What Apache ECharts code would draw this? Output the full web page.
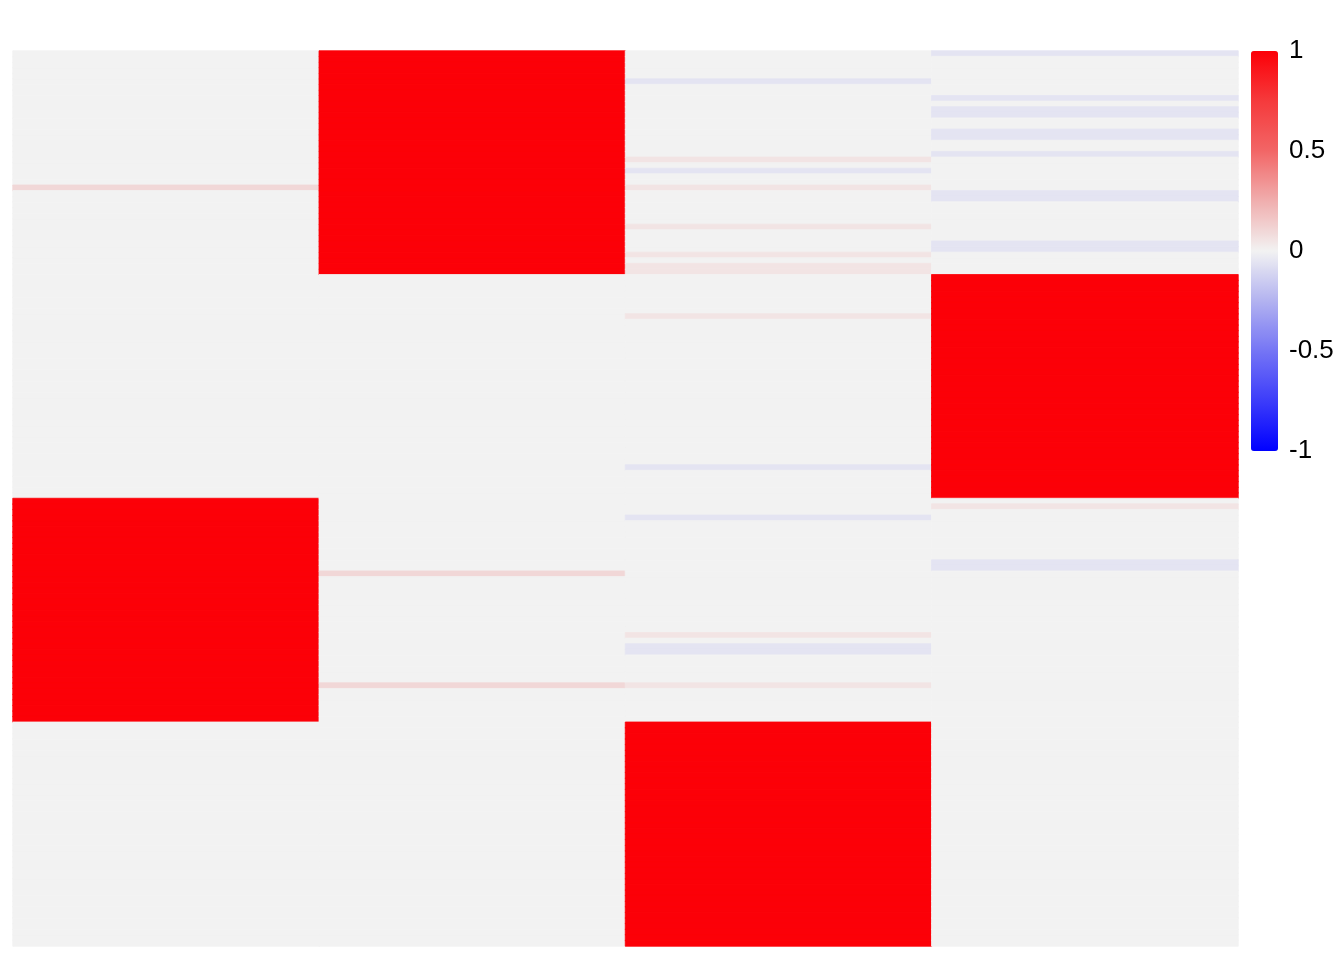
<!DOCTYPE html>
<html>
<head>
<meta charset="utf-8">
<script src="https://cdn.jsdelivr.net/npm/echarts@6/dist/echarts.min.js"></script>
<style>html,body{margin:0;padding:0;background:#fff}#chart{width:1344px;height:960px}</style>
</head>
<body>
<div id="chart"></div>
<script>
// Columns of the heatmap (left to right)
var columns = ['1', '2', '3', '4'];
// Number of rows (top to bottom)
var rowCount = 160;
// Non-zero cells per column as runs: [firstRow, lastRow, value]; all other cells are 0
var col1Runs = [[24, 24, 0.10], [80, 119, 1]];
var col2Runs = [[0, 39, 1], [93, 93, 0.10], [113, 113, 0.10]];
var col3Runs = [[5, 5, -0.055], [19, 19, 0.05], [21, 21, -0.055], [24, 24, 0.05], [31, 31, 0.05],
                [36, 36, 0.05], [38, 39, 0.05], [47, 47, 0.05], [74, 74, -0.055], [83, 83, -0.055],
                [104, 104, 0.05], [106, 107, -0.055], [113, 113, 0.05], [120, 159, 1]];
var col4Runs = [[0, 0, -0.055], [8, 8, -0.055], [10, 11, -0.055], [14, 15, -0.055], [18, 18, -0.055],
                [25, 26, -0.055], [34, 35, -0.055], [40, 79, 1], [81, 81, 0.05], [91, 92, -0.055]];
// Colour scale ticks
var scaleTicks = [-1, -0.5, 0, 0.5, 1];
var scaleColors = ['#0000ff', '#3c3cfa', '#7575f5', '#b2b2f0', '#f2f2f2', '#f0aeae', '#f26666', '#f53a3c', '#fc0008'];

var rows = [];
for (var r = 0; r < rowCount; r++) rows.push('r' + (r + 1));
var allRuns = [col1Runs, col2Runs, col3Runs, col4Runs];
var vmin = scaleTicks[0], vmax = scaleTicks[scaleTicks.length - 1];
var cells = [];
allRuns.forEach(function (runs, c) {
  var vals = [];
  for (var i = 0; i < rowCount; i++) vals.push(0);
  runs.forEach(function (run) {
    for (var k = run[0]; k <= run[1]; k++) vals[k] = run[2];
  });
  vals.forEach(function (v, i) {
    // stroke each cell in its own scale colour so neighbouring cells leave no anti-aliasing seams
    var sc = echarts.color.lerp((v - vmin) / (vmax - vmin), scaleColors);
    cells.push({value: [c, i, v], itemStyle: {borderColor: sc, borderWidth: 0.8}});
  });
});

var chart = echarts.init(document.getElementById('chart'), null, {renderer: 'canvas'});
chart.setOption({
  animation: false,
  backgroundColor: '#ffffff',
  grid: [
    {left: 13, top: 51, width: 1225, height: 895, containLabel: false},
    {left: 1251, top: 51, width: 27, height: 400, containLabel: false}
  ],
  xAxis: [
    {type: 'category', gridIndex: 0, data: columns, show: false},
    {type: 'value', gridIndex: 1, min: 0, max: 1, show: false}
  ],
  yAxis: [
    {type: 'category', gridIndex: 0, data: rows, inverse: true, show: false},
    {type: 'value', gridIndex: 1, min: vmin, max: vmax, interval: 0.5,
     position: 'right',
     axisLine: {show: false}, axisTick: {show: false}, splitLine: {show: false},
     axisLabel: {show: true, margin: 11, fontSize: 26, color: '#000000', fontFamily: 'Liberation Sans, Arial, sans-serif',
       padding: [6, 0, 0, 0],
       formatter: function (v) { return String(v); }}}
  ],
  visualMap: {
    type: 'continuous',
    seriesIndex: 0,
    dimension: 2,
    min: vmin,
    max: vmax,
    calculable: false,
    realtime: false,
    show: true,
    orient: 'vertical',
    left: 1251,
    top: 51,
    padding: 0,
    itemWidth: 27,
    itemHeight: 400,
    text: null,
    showLabel: false,
    inRange: {color: scaleColors}
  },
  series: [{
    type: 'heatmap',
    xAxisIndex: 0,
    yAxisIndex: 0,
    data: cells,
    progressive: 0,
    emphasis: {disabled: true}
  }]
});
</script>
</body>
</html>
